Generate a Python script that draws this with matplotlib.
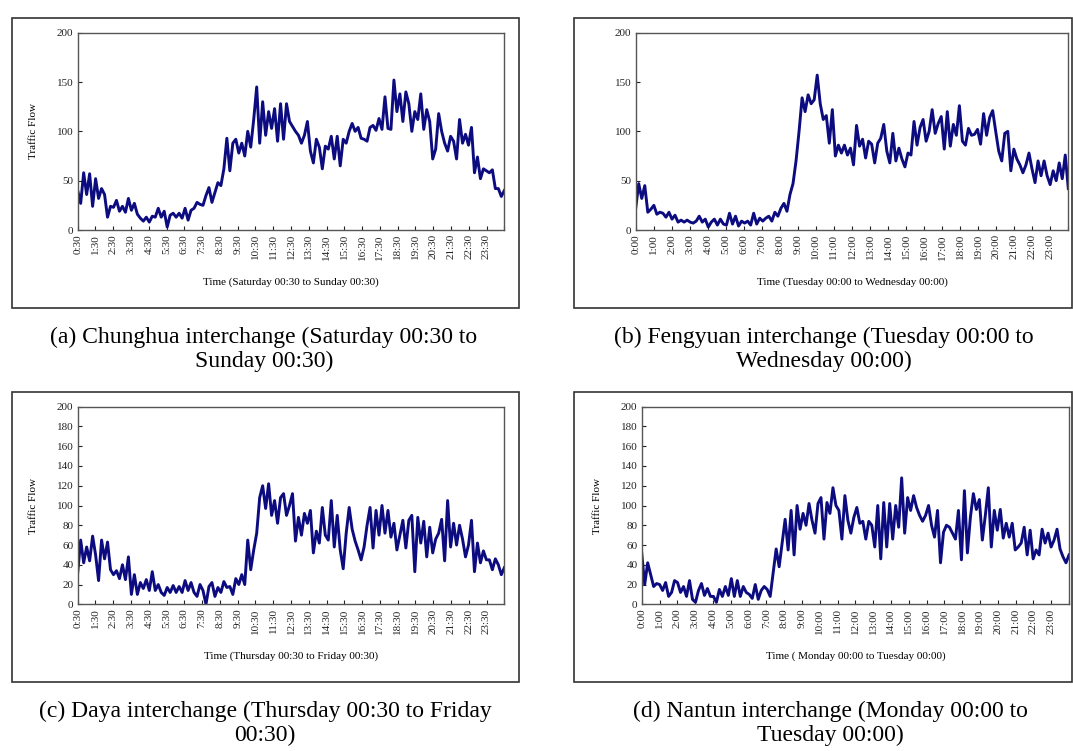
import numpy as np
import matplotlib
matplotlib.use("Agg")
import matplotlib.pyplot as plt
from matplotlib.patches import Rectangle

plt.rcParams['font.family'] = ['Liberation Serif', 'DejaVu Serif']

# ---------------- data (10-minute samples, 6 per hour) ----------------
labels_half = [f"{h}:30" for h in range(24)]
labels_full = [f"{h}:00" for h in range(24)]

chunghua = [
    40, 27, 58, 36, 57, 24,   52, 32, 42, 36, 13, 24,   23, 30, 19, 24, 18, 32,
    20, 27, 16, 12, 9, 13,    8, 14, 13, 22, 13, 19,    3, 15, 17, 13, 17, 12,
    22, 10, 20, 22, 28, 26,   25, 35, 43, 28, 38, 48,   45, 62, 93, 60, 88, 92,
    78, 88, 75, 100, 84, 112, 145, 88, 130, 96, 120, 103, 123, 90, 128, 92, 128, 110,
    105, 100, 96, 88, 96, 110, 80, 68, 92, 84, 62, 85,  82, 95, 72, 95, 65, 92,
    88, 100, 108, 100, 104, 93, 92, 90, 104, 106, 101, 113, 102, 135, 103, 102, 152, 120,
    138, 110, 140, 128, 100, 120, 112, 138, 102, 122, 110, 72, 82, 118, 100, 88, 80, 95,
    90, 72, 112, 88, 97, 86,  104, 58, 74, 52, 62, 60,  58, 61, 42, 42, 34, 40,
]

fengyuan = [
    22, 47, 32, 45, 18, 21,   25, 16, 18, 17, 13, 18,   11, 15, 8, 10, 8, 10,
    8, 7, 9, 14, 8, 11,       3, 8, 11, 5, 11, 6,       5, 17, 6, 14, 4, 9,
    7, 9, 5, 17, 6, 12,       9, 12, 14, 9, 18, 14,     22, 27, 19, 36, 47, 70,
    100, 134, 120, 137, 128, 132, 157, 128, 112, 116, 88, 122, 75, 86, 78, 86, 76, 83,
    66, 106, 85, 92, 73, 90,  87, 68, 88, 93, 107, 80,  68, 98, 70, 83, 72, 64,
    78, 76, 110, 86, 104, 112, 90, 100, 122, 98, 108, 115, 82, 120, 85, 107, 96, 126,
    90, 86, 103, 96, 97, 102, 87, 118, 96, 114, 121, 100, 80, 70, 98, 100, 60, 82,
    72, 66, 58, 66, 78, 62,   48, 70, 55, 70, 55, 46,   60, 50, 68, 52, 76, 42,
]

daya = [
    32, 65, 42, 58, 44, 69,   50, 24, 65, 46, 63, 35,   30, 34, 26, 40, 25, 48,
    10, 30, 10, 22, 16, 25,   14, 33, 14, 20, 12, 9,    17, 12, 19, 12, 18, 12,
    24, 14, 22, 12, 8, 20,    14, 0, 18, 22, 8, 17,     12, 23, 17, 18, 10, 26,
    20, 30, 20, 65, 35, 55,   72, 108, 120, 97, 122, 90, 105, 82, 108, 112, 90, 100,
    112, 64, 88, 70, 92, 82,  95, 52, 74, 62, 98, 70,   65, 105, 58, 90, 55, 36,
    72, 98, 76, 64, 55, 45,   58, 80, 98, 57, 95, 70,   100, 72, 95, 68, 82, 55,
    70, 85, 57, 85, 90, 33,   88, 62, 84, 48, 78, 52,   66, 72, 86, 44, 105, 58,
    82, 60, 80, 66, 48, 60,   85, 33, 62, 42, 54, 45,   45, 35, 46, 40, 30, 37,
]

nantun = [
    52, 20, 42, 30, 18, 21,   20, 14, 22, 8, 12, 24,    22, 12, 18, 8, 24, 5,
    2, 14, 21, 9, 16, 8,      8, 2, 15, 8, 18, 9,      26, 8, 24, 8, 18, 12,
    10, 6, 20, 5, 14, 18,     15, 8, 32, 56, 38, 62,   86, 55, 95, 50, 100, 76,
    92, 80, 102, 85, 72, 102, 108, 66, 103, 92, 118, 100, 95, 66, 110, 85, 72, 88,
    98, 82, 84, 66, 84, 80,   58, 100, 46, 103, 58, 102, 66, 100, 78, 128, 72, 108,
    95, 110, 98, 90, 84, 90,  100, 80, 68, 95, 42, 73,  80, 78, 72, 66, 95, 45,
    115, 52, 88, 112, 96, 106, 65, 90, 118, 58, 95, 75, 96, 67, 82, 68, 82, 55,
    58, 62, 78, 50, 75, 46,   55, 50, 76, 62, 72, 58,   65, 76, 56, 48, 42, 50,
]

panels = [
    dict(y=chunghua, labels=labels_half, yticks=[0, 50, 100, 150, 200],
         xlabel="Time (Saturday 00:30 to Sunday 00:30)", ylabel="Traffic Flow",
         caption=["(a) Chunghua interchange (Saturday 00:30 to", "Sunday 00:30)"],
         box=(12, 18, 519, 308), ax=(77.7, 32.7, 504.3, 230.0), cap=(264, 337)),
    dict(y=fengyuan, labels=labels_full, yticks=[0, 50, 100, 150, 200],
         xlabel="Time (Tuesday 00:00 to Wednesday 00:00)", ylabel=None,
         caption=["(b) Fengyuan interchange (Tuesday 00:00 to", "Wednesday 00:00)"],
         box=(574, 18, 1072, 308), ax=(635.7, 32.7, 1068.3, 230.0), cap=(824, 337)),
    dict(y=daya, labels=labels_half, yticks=list(range(0, 201, 20)),
         xlabel="Time (Thursday 00:30 to Friday 00:30)", ylabel="Traffic Flow",
         caption=["(c) Daya interchange (Thursday 00:30 to Friday", "00:30)"],
         box=(12, 392, 519, 682), ax=(77.7, 406.7, 504.3, 604.3), cap=(265, 711)),
    dict(y=nantun, labels=labels_full, yticks=list(range(0, 201, 20)),
         xlabel="Time ( Monday 00:00 to Tuesday 00:00)", ylabel="Traffic Flow",
         caption=["(d) Nantun interchange (Monday 00:00 to", "Tuesday 00:00)"],
         box=(574, 392, 1072, 682), ax=(641.7, 406.7, 1069.0, 604.3), cap=(830, 711)),
]

W, H = 1073, 751
fig = plt.figure(figsize=(W / 100, H / 100), dpi=100)

line_color = "#0c0c80"
for p in panels:
    bx0, by0, bx1, by1 = p["box"]
    fig.patches.append(Rectangle((bx0 / W, 1 - by1 / H), (bx1 - bx0) / W, (by1 - by0) / H,
                                 transform=fig.transFigure, fill=False,
                                 edgecolor="#333333", linewidth=1.2))
    x0, y0, x1, y1 = p["ax"]
    ax = fig.add_axes([x0 / W, 1 - y1 / H, (x1 - x0) / W, (y1 - y0) / H])
    vals = np.array(p["y"], dtype=float)
    t = np.arange(len(vals)) * 24.0 / (len(vals) - 1)
    ax.plot(t, vals, color=line_color, linewidth=2.1, solid_joinstyle="round")
    ax.set_xlim(0, 24)
    ax.set_ylim(0, 200)
    ax.set_xticks(range(25))
    ax.set_xticklabels(p["labels"] + [""], rotation=90, fontsize=8)
    ax.set_yticks(p["yticks"])
    ax.set_yticklabels([str(v) for v in p["yticks"]], fontsize=8)
    ax.tick_params(axis="both", direction="in", length=3, width=0.8, pad=3, colors="#222222")
    for s in ax.spines.values():
        s.set_color("#555555")
        s.set_linewidth(1.0)
    ax.set_xlabel(p["xlabel"], fontsize=8)
    ax.xaxis.set_label_coords(0.5, -0.24)
    if p["ylabel"]:
        ax.set_ylabel(p["ylabel"], fontsize=8)
        ax.yaxis.set_label_coords(-0.092, 0.5)
    cx, cy = p["cap"]
    for i, line in enumerate(p["caption"]):
        fig.text(cx / W, 1 - (cy + 24 * i) / H, line, ha="center", va="center",
                 fontsize=17)

fig.savefig("out.png", dpi=100)
